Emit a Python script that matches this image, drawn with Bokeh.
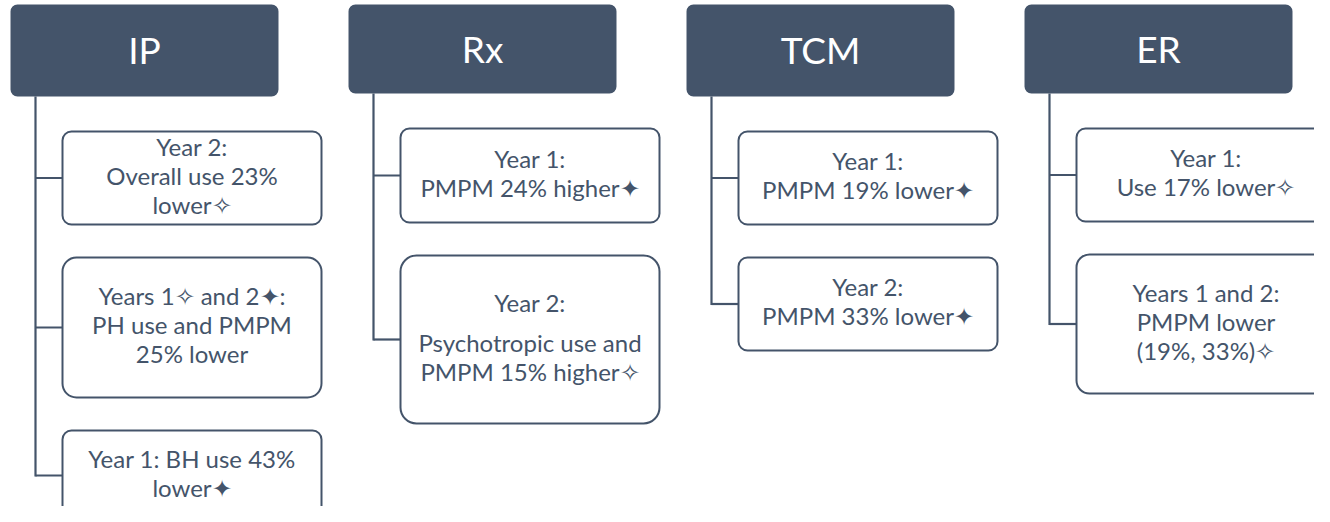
from bokeh.plotting import figure
from bokeh.models import Range1d, BoxAnnotation, ColumnDataSource
from bokeh.core.properties import value
from bokeh.embed import file_html
from bokeh.resources import INLINE

# ---- data ----
categories = ["IP", "Rx", "TCM", "ER"]
ip_items = ["Year 2:\nOverall use 23%\nlower\u2727",
            "Years 1\u2727 and 2\u2726:\nPH use and PMPM\n25% lower",
            "Year 1: BH use 43%\nlower\u2726"]
rx_items = ["Year 1:\nPMPM 24% higher\u2726",
            "Year 2:|Psychotropic use and\nPMPM 15% higher\u2727"]
tcm_items = ["Year 1:\nPMPM 19% lower\u2726",
             "Year 2:\nPMPM 33% lower\u2726"]
er_items = ["Year 1:\nUse 17% lower\u2727",
            "Years 1 and 2:\nPMPM lower\n(19%, 33%)\u2727"]
items = [ip_items, rx_items, tcm_items, er_items]

# ---- layout / style ----
DARK = "#44546A"
COL_LEFT0, COL_STEP, HEAD_W, HEAD_TOP = 10, 338, 268, 4
head_bottom = [96, 93, 96, 93]
STEM_DX, BOX_DX, BOX_W = 25, 52, 259
FIRST_GAP, GAP = 35, 33
box_heights = [[93, 140, 90], [94, 168], [93, 93], [93, 139]]
LINE_H, PARA_EXTRA, TEXT_DY = 29, 11, -3
W, H = 1314, 506

p = figure(width=W, height=H, output_backend="svg", toolbar_location=None,
           x_range=Range1d(0, W), y_range=Range1d(H, 0),
           min_border=0, outline_line_color=None)
p.axis.visible = False
p.grid.visible = False
p.background_fill_color = "white"

seg = dict(x0=[], y0=[], x1=[], y1=[])
hx, hy, htxt = [], [], []
tx, ty, ttxt = [], [], []

for ci, cat in enumerate(categories):
    left = COL_LEFT0 + ci * COL_STEP
    hb = head_bottom[ci]
    p.add_layout(BoxAnnotation(left=left, right=left + HEAD_W, top=HEAD_TOP, bottom=hb,
                               fill_color=DARK, fill_alpha=1.0, line_color=None,
                               border_radius=7, level="underlay"))
    hx.append(left + HEAD_W / 2)
    hy.append((HEAD_TOP + hb) / 2 - 1)
    htxt.append(cat)
    stem_x = left + STEM_DX
    bx = left + BOX_DX
    y = hb + FIRST_GAP
    last_mid = None
    for k, txt in enumerate(items[ci]):
        bh = box_heights[ci][k]
        r = int(0.1 * min(bh, BOX_W))
        p.add_layout(BoxAnnotation(left=bx, right=bx + BOX_W, top=y, bottom=y + bh,
                                   fill_color="white", fill_alpha=1.0,
                                   line_color=DARK, line_alpha=1.0, line_width=2,
                                   border_radius=r, level="underlay"))
        mid = y + bh / 2
        seg["x0"].append(stem_x); seg["y0"].append(mid)
        seg["x1"].append(bx); seg["y1"].append(mid)
        last_mid = mid
        # text lines
        offs, lines = [], []
        cur = 0.0
        for pi, para in enumerate(txt.split("|")):
            if pi > 0:
                cur += LINE_H + PARA_EXTRA
            for li, line in enumerate(para.split("\n")):
                if li > 0:
                    cur += LINE_H
                offs.append(cur)
                lines.append(line)
        span = offs[-1]
        for o, line in zip(offs, lines):
            tx.append(bx + BOX_W / 2)
            ty.append(mid - span / 2 + o + TEXT_DY)
            ttxt.append(line)
        y += bh + GAP
    seg["x0"].append(stem_x); seg["y0"].append(hb)
    seg["x1"].append(stem_x); seg["y1"].append(last_mid + 1)

p.segment(x0="x0", y0="y0", x1="x1", y1="y1", source=ColumnDataSource(seg),
          line_color=DARK, line_width=2.2)

p.text(x=hx, y=hy, text=htxt, text_font=value("Lato"), text_font_size="37px",
       text_color="white", text_align="center", text_baseline="middle")
p.text(x=tx, y=ty, text=ttxt, text_font=value("Lato"), text_font_size="24px",
       text_color=DARK, text_align="center", text_baseline="middle")

open("out.html", "w").write(file_html(p, INLINE))
